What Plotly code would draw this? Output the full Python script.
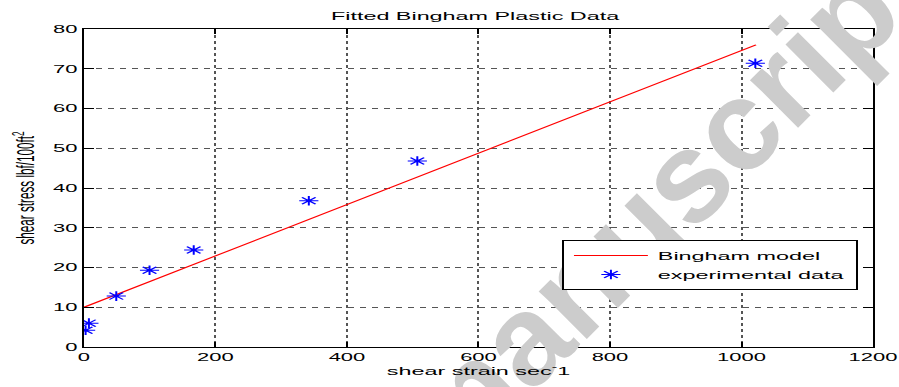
import plotly.graph_objects as go

# data
shear_rate = [2.6, 7.6, 49.2, 99.8, 167, 342, 507, 1021]
shear_stress = [4.2, 6.0, 12.8, 19.3, 24.4, 36.8, 46.8, 71.4]
model_x = [0, 1022]
model_y = [10, 76]
x_ticks = [0, 200, 400, 600, 800, 1000, 1200]
y_ticks = [0, 10, 20, 30, 40, 50, 60, 70, 80]

FONT = "Liberation Sans, Arial, Helvetica, sans-serif"
W = 450            # drawn width; the page stretches it to 899 px like the reference
S = 899 / W
L, R, T, B = 42, 13, 29, 40

fig = go.Figure()
fig.add_trace(go.Scatter(
    x=model_x, y=model_y, mode="lines", name="Bingham model",
    line=dict(color="red", width=1),
))
fig.add_trace(go.Scatter(
    x=shear_rate, y=shear_stress, mode="markers", name="experimental data",
    marker=dict(symbol="asterisk-open", size=8, color="blue",
                line=dict(color="blue", width=1)),
))

axis_common = dict(
    showline=True, linecolor="black", linewidth=1, mirror="ticks",
    ticks="inside", ticklen=5, tickcolor="black", tickwidth=1,
    showgrid=True, gridcolor="#555", griddash="dot", gridwidth=1,
    zeroline=False, automargin=False,
    tickfont=dict(family=FONT, size=11, color="black"),
)

fig.update_layout(
    width=W, height=387,
    margin=dict(l=L, r=R, t=T, b=B),
    paper_bgcolor="white", plot_bgcolor="white",
    title=dict(text="Fitted Bingham Plastic Data", xref="container", x=237.8 / W,
               xanchor="center", y=1 - 16 / 387, yanchor="middle",
               font=dict(family=FONT, size=11.7, color="black")),
    xaxis=dict(range=[0, 1200], tickvals=x_ticks, **axis_common,
               title=dict(text="shear strain sec<sup>-</sup>1", standoff=3,
                          font=dict(family=FONT, size=11.7, color="black"))),
    yaxis=dict(range=[0, 80], tickvals=y_ticks, **axis_common,
               title=dict(text="shear stress lbf/100ft<sup>2</sup>", standoff=6,
                          font=dict(family=FONT, size=11.7, color="black"))),
    legend=dict(x=(281.3 - L) / (W - L - R), y=(347 - 240) / 318,
                xanchor="left", yanchor="top",
                bgcolor="white", bordercolor="black", borderwidth=1,
                font=dict(family=FONT, size=11.7, color="black"),
                tracegroupgap=0, itemwidth=37),
    showlegend=True,
)

CX, CY = 662 / S, 200
fig.add_annotation(
    text="<b>manuscript</b>", xref="paper", yref="paper",
    x=(CX - L) / (W - L - R), y=(347 - CY) / 318, xanchor="center", yanchor="middle",
    showarrow=False, textangle=-45,
    font=dict(family=FONT, size=128, color="rgb(204,204,204)"),
)

post = """
document.body.style.margin = '0';
var gd = document.getElementById('{plot_id}');
var S = %f, CX = %f, CY = %f;
var ann = gd.querySelector('g.annotation');
var leg = gd.querySelector('g.legend');
if (ann && leg) { leg.parentNode.insertBefore(ann, leg); }
if (ann) { ann.setAttribute('transform', 'translate(' + CX + ',' + CY + ') scale(' + (1/S) + ',1) translate(' + (-CX) + ',' + (-CY) + ')'); }
gd.style.transformOrigin = '0 0';
gd.style.transform = 'scaleX(' + S + ')';
""" % (S, CX, CY)

fig.write_html("out.html", post_script=post, config={"displayModeBar": False})
